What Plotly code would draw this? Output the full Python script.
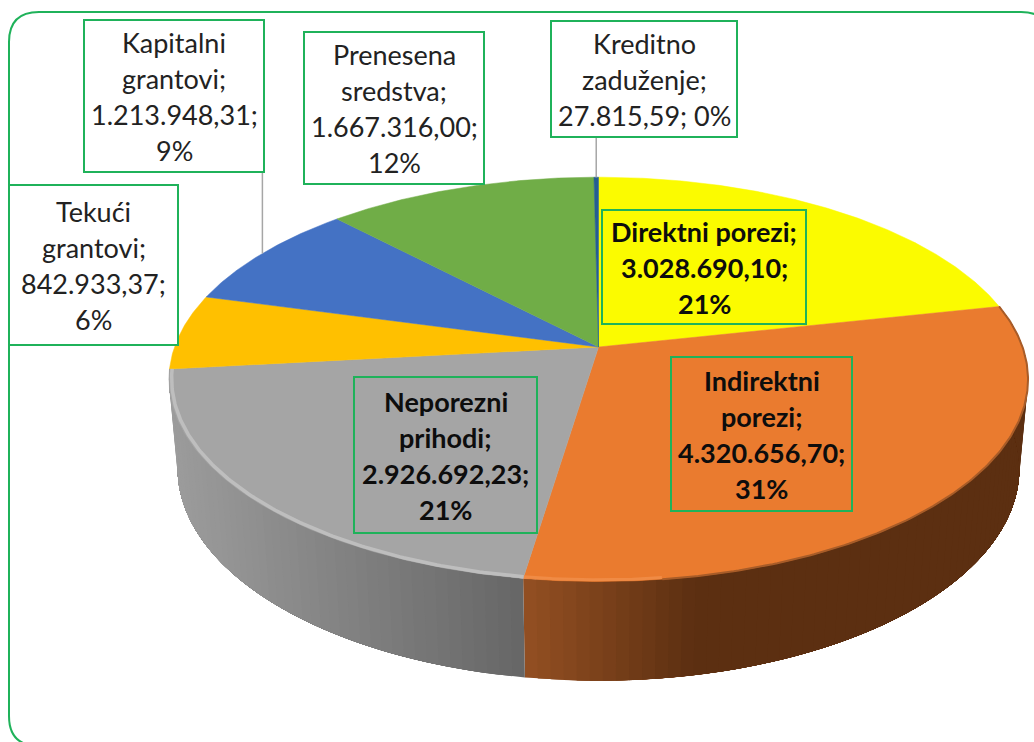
import numpy as np
import plotly.graph_objects as go

categories = ["Direktni porezi", "Indirektni porezi", "Neporezni prihodi", "Tekući grantovi",
              "Kapitalni grantovi", "Prenesena sredstva", "Kreditno zaduženje"]
values = [3028690.10, 4320656.70, 2926692.23, 842933.37, 1213948.31, 1667316.00, 27815.59]
colors = ["#FBFB00", "#EA7B2F", "#A5A5A5", "#FFC000", "#4472C4", "#70AD47", "#255E91"]

label_lines = [
    ["Direktni porezi;", "3.028.690,10;", "21%"],
    ["Indirektni", "porezi;", "4.320.656,70;", "31%"],
    ["Neporezni", "prihodi;", "2.926.692,23;", "21%"],
    ["Tekući", "grantovi;", "842.933,37;", "6%"],
    ["Kapitalni", "grantovi;", "1.213.948,31;", "9%"],
    ["Prenesena", "sredstva;", "1.667.316,00;", "12%"],
    ["Kreditno", "zaduženje;", "27.815,59; 0%"],
]
label_boxes = [(602, 806, 210, 324), (671, 852, 357, 511), (354, 537, 377, 533), (9, 178, 185, 345),
               (84, 264, 20, 172), (304, 484, 32, 184), (551, 737, 21, 137)]
label_bold = [True, True, True, False, False, False, False]
label_fill = ["#FBFB00", "#EA7B2F", "#A5A5A5", "white", "white", "white", "white"]

GREEN = "#1FB25A"
CX, CY, A, B, K, D, M = 598.5, 347.0, 424.0, 197.0, 0.16, 90.0, 0.02


def project(theta_deg, radius=1.0, depth=0.0):
    t = np.radians(theta_deg)
    u, v = radius * np.sin(t), radius * np.cos(t)
    w = 1 + K * v + M * depth
    return CX + A * u / w, CY + (-B * v + D * depth) / w


def lerp_hex(c1, c2, f):
    f = min(max(f, 0.0), 1.0)
    a = [int(c1[i:i + 2], 16) for i in (1, 3, 5)]
    b = [int(c2[i:i + 2], 16) for i in (1, 3, 5)]
    return "rgb(%d,%d,%d)" % tuple(round(p + (q - p) * f) for p, q in zip(a, b))


def side_color(index, x):
    if index == 2:
        return lerp_hex("#9C9C9C", "#666666", (x - 170) / 355)
    return lerp_hex("#934F22", "#5C2F11", (x - 525) / 170)


fractions = np.array(values) / sum(values)
edges = np.concatenate([[0], np.cumsum(fractions) * 360])

fig = go.Figure()

# side wall of the front slices: overlapping strips, painted from each outer end towards the seam
for i, reverse in ((1, False), (2, True)):
    start, end = edges[i], edges[i + 1]
    grid = np.linspace(start, end, max(int((end - start) / 1.5), 1) + 1)
    pairs = list(zip(grid[:-1], grid[1:]))
    if not reverse:
        pairs = pairs[::-1]
    for a0, a1 in pairs:
        ts = np.linspace(a0, end, 40) if reverse else np.linspace(start, a1, 40)
        xt, yt = project(ts)
        xb, yb = project(ts[::-1], depth=1.0)
        mx, _ = project((a0 + a1) / 2)
        col = side_color(i, float(mx))
        fig.add_trace(go.Scatter(x=np.r_[xt, xb], y=np.r_[yt, yb], mode="lines", fill="toself",
                                 fillcolor=col, line=dict(color=col, width=0),
                                 hoverinfo="skip", showlegend=False))

# top face
for i, c in enumerate(categories):
    ts = np.linspace(edges[i], edges[i + 1], max(int((edges[i + 1] - edges[i]) * 2), 2))
    xs, ys = project(ts)
    fig.add_trace(go.Scatter(x=np.r_[CX, xs, CX], y=np.r_[CY, ys, CY], mode="lines", fill="toself",
                             fillcolor=colors[i], line=dict(color=colors[i], width=0.5), name=c,
                             hoverinfo="skip", showlegend=False))

# bevel along the rim: dark soft edge on the right, highlights on the front and left
rim_parts = [
    (edges[1], edges[1] + 95, 1.0, "#A85C28", 2.0),
    (edges[1] + 95, edges[2], 0.994, "#F08B45", 3.0),
    (edges[2], edges[3], 0.994, "#BEBEBE", 3.5),
]
for a0, a1, r, col, wid in rim_parts:
    ts = np.linspace(a0, a1, 160)
    xs, ys = project(ts, radius=r)
    fig.add_trace(go.Scatter(x=xs, y=ys, mode="lines", line=dict(color=col, width=wid),
                             hoverinfo="skip", showlegend=False))

shapes = []
# outer rounded frame
shapes.append(dict(type="path",
                   path="M 39 12 L 1021 12 Q 1051 12 1051 42 L 1051 716 Q 1051 746 1021 746 "
                        "L 39 746 Q 9 746 9 716 L 9 42 Q 9 12 39 12 Z",
                   line=dict(color=GREEN, width=2), fillcolor="rgba(0,0,0,0)", layer="below"))

# leader lines from outside labels to their slices
for i in (4, 6):
    mid = (edges[i] + edges[i + 1]) / 2
    px, py = project(mid)
    box = label_boxes[i]
    shapes.append(dict(type="line", x0=px, x1=px, y0=box[3], y1=py,
                       line=dict(color="#A6A6A6", width=1.5), layer="above"))

annotations = []
LINE = 36
for lines, box, bold, fill in zip(label_lines, label_boxes, label_bold, label_fill):
    x0, x1, y0, y1 = box
    shapes.append(dict(type="rect", x0=x0, x1=x1, y0=y0, y1=y1, fillcolor=fill,
                       line=dict(color=GREEN, width=2), layer="above"))
    xc, yc = (x0 + x1) / 2, (y0 + y1) / 2
    for k, t in enumerate(lines):
        annotations.append(dict(x=xc, y=yc + (k - (len(lines) - 1) / 2) * LINE,
                                text=f"<b>{t}</b>" if bold else t,
                                showarrow=False, xanchor="center", yanchor="middle",
                                font=dict(family="Lato", size=27, color="#0D0D0D" if bold else "#222222")))

fig.update_layout(
    width=1034, height=742, margin=dict(l=0, r=0, t=0, b=0, pad=0),
    paper_bgcolor="white", plot_bgcolor="white", showlegend=False,
    xaxis=dict(range=[0, 1034], visible=False, fixedrange=True),
    yaxis=dict(range=[742, 0], visible=False, fixedrange=True),
    shapes=shapes, annotations=annotations,
)

fig.write_html("out.html", config={"displayModeBar": False},
               post_script="document.body.style.margin='0';document.body.style.overflow='hidden';")
